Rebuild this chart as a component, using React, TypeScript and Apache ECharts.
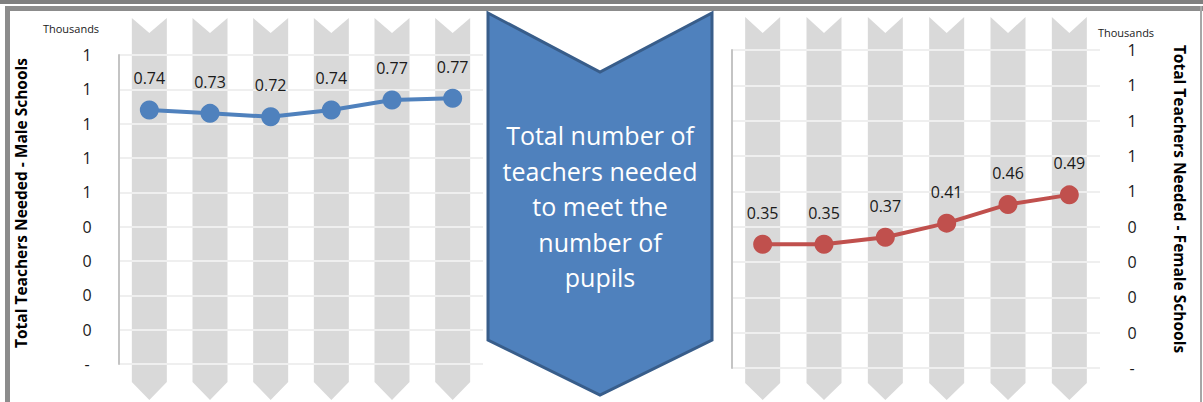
import React, { useEffect, useRef } from "react";
import * as echarts from "echarts";

const categories = ["P1", "P2", "P3", "P4", "P5", "P6"];
const maleTeachers = [0.74, 0.73, 0.72, 0.74, 0.769, 0.774];
const femaleTeachers = [0.35, 0.35, 0.37, 0.41, 0.463, 0.49];
const axisMin = 0;
const axisMax = 0.9;
const axisStep = 0.1;
const leftTitle = "Total Teachers Needed - Male Schools";
const rightTitle = "Total Teachers Needed - Female Schools";
const unitLabel = "Thousands";
const centerText = "Total number of\nteachers needed\nto meet the\nnumber of\npupils";

const FONT = "'Open Sans', Lato, sans-serif";

function chevronRenderer(topOff: number, notch: number, sideOff: number, tipOff: number) {
  return (params: any, api: any) => {
    const cs = params.coordSys;
    const cx = api.coord([api.value(0), 0])[0];
    const hw = 17.5;
    const top = cs.y - topOff;
    const bottom = cs.y + cs.height + sideOff;
    const tip = cs.y + cs.height + tipOff;
    return {
      type: "polygon",
      shape: {
        points: [
          [cx - hw, top],
          [cx, top + notch],
          [cx + hw, top],
          [cx + hw, bottom],
          [cx, tip],
          [cx - hw, bottom],
        ],
      },
      style: { fill: "#d9d9d9" },
    };
  };
}

function yLabel(v: number) {
  if (Math.abs(v) < 1e-9) return "-";
  return String(Math.round(v));
}

export default function App() {
  const ref = useRef<HTMLDivElement>(null);
  useEffect(() => {
    document.body.style.margin = "0";
    const chart = echarts.init(ref.current!, null, { renderer: "svg" });
    const valueAxisBase = {
      type: "value",
      min: axisMin,
      max: axisMax,
      interval: axisStep,
    };
    const lineLabel = {
      show: true,
      position: "top",
      distance: 14,
      fontSize: 16,
      color: "#1a1a1a",
      fontFamily: FONT,
      formatter: (p: any) => Number(p.value).toFixed(2),
    };
    const tickLabel = { formatter: yLabel, align: "center", margin: 32, fontSize: 16, color: "#1a1a1a", fontFamily: FONT };
    chart.setOption({
      animation: false,
      textStyle: { fontFamily: FONT },
      grid: [
        { left: 119, top: 55, width: 364, height: 309 },
        { left: 732, top: 50, width: 368, height: 318 },
      ],
      xAxis: [
        { type: "category", gridIndex: 0, data: categories, show: false },
        { type: "category", gridIndex: 1, data: categories, show: false },
      ],
      yAxis: [
        {
          ...valueAxisBase,
          gridIndex: 0,
          position: "left",
          axisLine: { show: true, lineStyle: { color: "#c4c4c4", width: 2 } },
          axisTick: { show: false },
          splitLine: { show: true, lineStyle: { color: "#efefef", width: 2 } },
          axisLabel: tickLabel,
        },
        {
          ...valueAxisBase,
          gridIndex: 1,
          position: "right",
          axisLine: { show: false },
          axisTick: { show: false },
          splitLine: { show: true, lineStyle: { color: "#efefef", width: 2 } },
          axisLabel: tickLabel,
        },
        {
          ...valueAxisBase,
          gridIndex: 1,
          position: "left",
          axisLine: { show: true, lineStyle: { color: "#c4c4c4", width: 2 } },
          axisTick: { show: false },
          splitLine: { show: false },
          axisLabel: { show: false },
        },
      ],
      series: [
        {
          type: "custom",
          xAxisIndex: 0,
          yAxisIndex: 0,
          z: -1,
          silent: true,
          data: categories.map((_, i) => [i, 0]),
          renderItem: chevronRenderer(37, 15, 18, 36),
        },
        {
          type: "custom",
          xAxisIndex: 1,
          yAxisIndex: 1,
          z: -1,
          silent: true,
          data: categories.map((_, i) => [i, 0]),
          renderItem: chevronRenderer(33, 16, 15, 32),
        },
        {
          type: "line",
          xAxisIndex: 0,
          yAxisIndex: 0,
          data: maleTeachers,
          symbol: "circle",
          symbolSize: 19,
          lineStyle: { color: "#4f81bd", width: 4 },
          itemStyle: { color: "#4f81bd" },
          label: lineLabel,
        },
        {
          type: "line",
          xAxisIndex: 1,
          yAxisIndex: 1,
          data: femaleTeachers,
          symbol: "circle",
          symbolSize: 19,
          lineStyle: { color: "#c0504d", width: 4 },
          itemStyle: { color: "#c0504d" },
          label: lineLabel,
        },
      ],
      graphic: [
        { type: "rect", shape: { x: 0, y: 0, width: 1203, height: 4 }, style: { fill: "#7f7f7f" }, silent: true },
        { type: "rect", shape: { x: 5, y: 6, width: 1198, height: 5 }, style: { fill: "#8c8c8c" }, silent: true },
        { type: "rect", shape: { x: 5, y: 6, width: 5, height: 396 }, style: { fill: "#8c8c8c" }, silent: true },
        { type: "rect", shape: { x: 1200, y: 6, width: 2, height: 396 }, style: { fill: "#a6a6a6" }, silent: true },
        {
          type: "polygon",
          shape: { points: [[488, 13], [600, 72], [712, 13], [712, 340], [600, 395], [488, 340]] },
          style: { fill: "#4f81bd", stroke: "#385d8a", lineWidth: 3 },
          silent: true,
        },
        {
          type: "text",
          x: 600,
          y: 206,
          style: {
            text: centerText,
            fill: "#ffffff",
            fontSize: 25,
            lineHeight: 35.5,
            fontFamily: FONT,
            align: "center",
            verticalAlign: "middle",
          },
          silent: true,
        },
        {
          type: "text",
          x: 21,
          y: 203,
          rotation: Math.PI / 2,
          style: { text: leftTitle, fill: "#000", fontSize: 15.5, fontWeight: "bold", fontFamily: FONT, align: "center", verticalAlign: "middle" },
          silent: true,
        },
        {
          type: "text",
          x: 1180,
          y: 199,
          rotation: -Math.PI / 2,
          style: { text: rightTitle, fill: "#000", fontSize: 15.5, fontWeight: "bold", fontFamily: FONT, align: "center", verticalAlign: "middle" },
          silent: true,
        },
        {
          type: "text",
          x: 71,
          y: 28,
          style: { text: unitLabel, fill: "#1a1a1a", fontSize: 11, fontFamily: FONT, align: "center", verticalAlign: "middle" },
          silent: true,
        },
        {
          type: "text",
          x: 1126,
          y: 32,
          style: { text: unitLabel, fill: "#1a1a1a", fontSize: 11, fontFamily: FONT, align: "center", verticalAlign: "middle" },
          silent: true,
        },
      ],
    });
    return () => chart.dispose();
  }, []);
  return <div ref={ref} style={{ width: 1203, height: 402 }} />;
}
